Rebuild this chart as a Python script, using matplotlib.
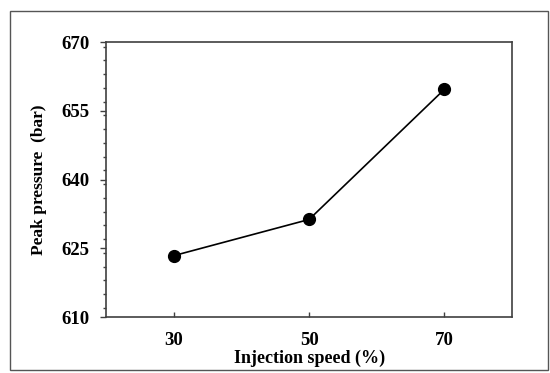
import matplotlib.pyplot as plt
from matplotlib.patches import Rectangle
from matplotlib.ticker import MultipleLocator

# injection speed (%) vs peak pressure (bar)
speed = [30, 50, 70]
peak_pressure = [623.4, 631.3, 659.7]
y_ticks = [610, 625, 640, 655, 670]

plt.rcParams['font.family'] = ['Liberation Serif', 'DejaVu Serif']
plt.rcParams['font.weight'] = 'bold'

fig = plt.figure(figsize=(5.5, 3.73), dpi=100)
ax = fig.add_axes([0.193, 0.150, 0.738, 0.737])

# outer border around whole figure
fig.patches.append(Rectangle((0.0175, 0.008), 0.9785, 0.9636, transform=fig.transFigure,
                             fill=False, edgecolor='#555555', linewidth=1.0))

ax.plot(speed, peak_pressure, color='black', linewidth=1.2,
        marker='o', markersize=8.5, markerfacecolor='black', markeredgecolor='black')

ax.set_xlim(20, 80)
ax.set_ylim(610, 670)
ax.set_xticks(speed)
ax.set_yticks(y_ticks)
ax.yaxis.set_minor_locator(MultipleLocator(3))

for s in ax.spines.values():
    s.set_color('#404040')
    s.set_linewidth(1.2)

ax.tick_params(axis='x', direction='in', length=3.5, width=1, color='#404040',
               labelsize=13.5, pad=11)
ax.tick_params(axis='y', which='major', direction='out', length=4, width=1,
               color='#404040', labelsize=13.5, pad=8)
ax.tick_params(axis='y', which='minor', direction='out', length=2.5, width=1,
               color='#404040')

ax.set_xlabel('Injection speed (%)', fontsize=13, fontweight='bold', labelpad=0)
ax.set_ylabel('Peak pressure  (bar)', fontsize=12.5, fontweight='bold', labelpad=10)

fig.savefig('out.png', dpi=100)
